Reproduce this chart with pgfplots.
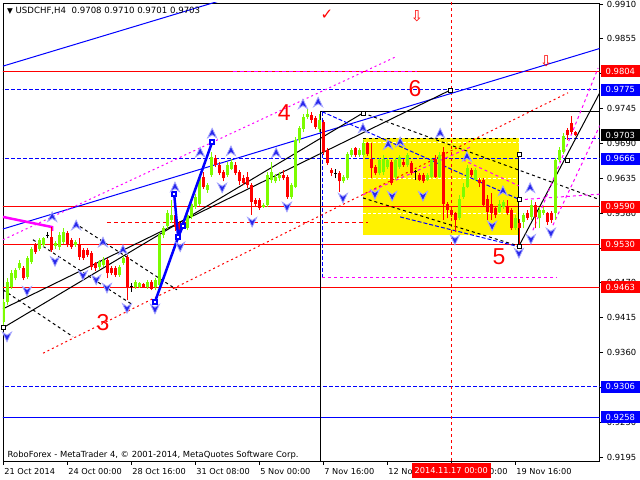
\documentclass[border=0pt]{standalone}
\usepackage{pgfplots}
\pgfplotsset{compat=1.18}
\usepackage{pgfplotstable}
\usepackage{fontspec}
\setmainfont{DejaVu Sans}
\newfontfamily\arialf{Liberation Sans}

\definecolor{bullc}{RGB}{124,252,0}
\definecolor{bearc}{RGB}{255,0,0}
\definecolor{mtblue}{RGB}{0,0,255}
\definecolor{mtmag}{RGB}{255,0,255}
\definecolor{frfill}{RGB}{40,40,235}
\definecolor{fredge}{RGB}{165,165,255}

\pgfdeclareplotmark{fup}{%
  \pgfpathmoveto{\pgfqpoint{0pt}{5pt}}%
  \pgfpathlineto{\pgfqpoint{4.5pt}{-4.5pt}}%
  \pgfpathlineto{\pgfqpoint{0pt}{-1.5pt}}%
  \pgfpathlineto{\pgfqpoint{-4.5pt}{-4.5pt}}%
  \pgfpathclose\pgfusepathqfillstroke}
\pgfdeclareplotmark{fdn}{%
  \pgfpathmoveto{\pgfqpoint{0pt}{-5pt}}%
  \pgfpathlineto{\pgfqpoint{4.5pt}{4.5pt}}%
  \pgfpathlineto{\pgfqpoint{0pt}{1.5pt}}%
  \pgfpathlineto{\pgfqpoint{-4.5pt}{4.5pt}}%
  \pgfpathclose\pgfusepathqfillstroke}

\pgfplotstableread{
i o h l c
0 0.9408 0.9445 0.9398 0.9440
1 0.9440 0.9478 0.9435 0.9472
2 0.9464 0.9490 0.9460 0.9485
3 0.9477 0.9493 0.9474 0.9490
4 0.9493 0.9506 0.9490 0.9502
6 0.9480 0.9512 0.9476 0.9509
7 0.9503 0.9527 0.9500 0.9524
9 0.9524 0.9541 0.9521 0.9538
10 0.9530 0.9543 0.9527 0.9540
13 0.9528 0.9536 0.9524 0.9533
14 0.9527 0.9550 0.9522 0.9545
15 0.9535 0.9556 0.9532 0.9551
18 0.9530 0.9538 0.9527 0.9535
24 0.9495 0.9506 0.9490 0.9503
25 0.9498 0.9510 0.9495 0.9506
29 0.9482 0.9498 0.9480 0.9495
30 0.9501 0.9512 0.9498 0.9509
33 0.9464 0.9474 0.9461 0.9472
34 0.9464 0.9472 0.9462 0.9469
36 0.9464 0.9474 0.9461 0.9471
38 0.9464 0.9477 0.9458 0.9474
39 0.9466 0.9548 0.9462 0.9545
40 0.9545 0.9560 0.9540 0.9556
41 0.9559 0.9585 0.9555 0.9580
42 0.9569 0.9600 0.9565 0.9577
46 0.9556 0.9580 0.9553 0.9577
47 0.9574 0.9598 0.9570 0.9595
48 0.9590 0.9610 0.9587 0.9606
49 0.9595 0.9642 0.9592 0.9637
51 0.9617 0.9628 0.9612 0.9625
52 0.9640 0.9677 0.9637 0.9669
56 0.9640 0.9660 0.9637 0.9656
57 0.9650 0.9666 0.9648 0.9661
65 0.9590 0.9596 0.9588 0.9593
66 0.9593 0.9645 0.9590 0.9640
67 0.9632 0.9660 0.9628 0.9645
68 0.9630 0.9642 0.9627 0.9637
69 0.9635 0.9645 0.9630 0.9640
72 0.9606 0.9627 0.9603 0.9624
73 0.9622 0.9700 0.9619 0.9695
74 0.9695 0.9718 0.9690 0.9714
75 0.9712 0.9737 0.9708 0.9732
76 0.9732 0.9745 0.9728 0.9737
79 0.9712 0.9737 0.9708 0.9727
85 0.9630 0.9640 0.9627 0.9637
86 0.9635 0.9677 0.9632 0.9674
87 0.9672 0.9683 0.9669 0.9680
89 0.9672 0.9683 0.9669 0.9680
90 0.9672 0.9695 0.9669 0.9690
94 0.9643 0.9667 0.9640 0.9664
95 0.9645 0.9672 0.9640 0.9666
96 0.9653 0.9667 0.9650 0.9664
98 0.9637 0.9667 0.9632 0.9664
99 0.9653 0.9672 0.9650 0.9669
101 0.9656 0.9675 0.9653 0.9672
106 0.9632 0.9643 0.9630 0.9640
107 0.9637 0.9667 0.9635 0.9664
109 0.9637 0.9677 0.9635 0.9672
114 0.9572 0.9608 0.9569 0.9603
115 0.9606 0.9627 0.9603 0.9622
116 0.9622 0.9656 0.9619 0.9651
118 0.9632 0.9651 0.9630 0.9648
124 0.9582 0.9600 0.9580 0.9595
125 0.9590 0.9601 0.9587 0.9598
128 0.9556 0.9577 0.9553 0.9572
130 0.9566 0.9580 0.9556 0.9577
132 0.9574 0.9601 0.9569 0.9593
134 0.9572 0.9590 0.9556 0.9585
135 0.9580 0.9590 0.9577 0.9585
138 0.9580 0.9667 0.9569 0.9664
139 0.9664 0.9685 0.9660 0.9680
140 0.9677 0.9706 0.9674 0.9701
}\bull

\pgfplotstableread{
i o h l c
5 0.9493 0.9496 0.9474 0.9477
8 0.9530 0.9533 0.9516 0.9519
12 0.9543 0.9558 0.9519 0.9522
16 0.9548 0.9552 0.9527 0.9530
17 0.9538 0.9541 0.9524 0.9527
19 0.9532 0.9540 0.9506 0.9511
20 0.9522 0.9525 0.9506 0.9509
21 0.9522 0.9525 0.9511 0.9514
22 0.9517 0.9520 0.9490 0.9495
23 0.9501 0.9503 0.9488 0.9493
26 0.9506 0.9509 0.9477 0.9485
27 0.9493 0.9496 0.9482 0.9485
28 0.9493 0.9496 0.9480 0.9482
31 0.9511 0.9514 0.9443 0.9464
35 0.9468 0.9470 0.9462 0.9464
37 0.9472 0.9475 0.9458 0.9461
43 0.9577 0.9583 0.9552 0.9558
44 0.9564 0.9567 0.9550 0.9553
45 0.9567 0.9570 0.9556 0.9559
50 0.9637 0.9645 0.9618 0.9622
53 0.9667 0.9672 0.9653 0.9656
54 0.9656 0.9660 0.9640 0.9643
55 0.9645 0.9648 0.9630 0.9635
58 0.9656 0.9660 0.9640 0.9643
59 0.9645 0.9648 0.9625 0.9630
60 0.9635 0.9640 0.9624 0.9627
61 0.9637 0.9645 0.9620 0.9624
62 0.9624 0.9627 0.9577 0.9598
63 0.9601 0.9604 0.9590 0.9595
64 0.9601 0.9604 0.9585 0.9588
70 0.9640 0.9648 0.9632 0.9635
71 0.9637 0.9640 0.9603 0.9606
77 0.9735 0.9740 0.9722 0.9727
78 0.9730 0.9733 0.9712 0.9716
80 0.9724 0.9727 0.9672 0.9677
81 0.9680 0.9683 0.9656 0.9659
82 0.9648 0.9651 0.9638 0.9643
84 0.9643 0.9646 0.9614 0.9630
88 0.9682 0.9685 0.9669 0.9672
91 0.9690 0.9693 0.9670 0.9674
92 0.9666 0.9690 0.9635 0.9651
93 0.9653 0.9656 0.9640 0.9643
97 0.9661 0.9664 0.9624 0.9627
100 0.9661 0.9666 0.9653 0.9656
102 0.9659 0.9662 0.9640 0.9643
104 0.9640 0.9643 0.9630 0.9632
105 0.9640 0.9643 0.9628 0.9630
108 0.9666 0.9672 0.9635 0.9637
110 0.9677 0.9685 0.9569 0.9595
111 0.9595 0.9598 0.9572 0.9585
112 0.9585 0.9590 0.9574 0.9577
113 0.9580 0.9582 0.9551 0.9569
117 0.9648 0.9651 0.9637 0.9640
119 0.9632 0.9635 0.9622 0.9627
120 0.9632 0.9635 0.9590 0.9593
121 0.9603 0.9608 0.9569 0.9582
122 0.9595 0.9611 0.9569 0.9580
123 0.9588 0.9590 0.9572 0.9577
126 0.9590 0.9601 0.9577 0.9580
127 0.9585 0.9588 0.9553 0.9556
129 0.9564 0.9570 0.9532 0.9556
131 0.9580 0.9585 0.9569 0.9572
133 0.9593 0.9598 0.9556 0.9574
136 0.9580 0.9582 0.9562 0.9566
137 0.9580 0.9583 0.9564 0.9569
141 0.9711 0.9714 0.9695 0.9703
142 0.9722 0.9733 0.9705 0.9708
143 0.9708 0.9710 0.9701 0.9703
}\bear

\pgfplotstableread{
i o h l c
11 0.9545 0.9550 0.9540 0.9545
32 0.9464 0.9469 0.9456 0.9464
83 0.9643 0.9650 0.9635 0.9643
103 0.9645 0.9648 0.9632 0.9645
}\doji

\begin{document}
\begin{tikzpicture}
\useasboundingbox (0,0) rectangle (640bp,480bp);
\fill[white] (0,0) rectangle (640bp,480bp);
\begin{axis}[
  at={(3bp,18.5bp)}, anchor=south west,
  scale only axis, width=596.5bp, height=458.5bp,
  xmin=-0.1, xmax=149.05, ymin=0.91881, ymax=0.99116,
  clip mode=individual,
  axis line style={line width=0.9bp},
  tick align=outside, major tick length=3.5bp,
  tick style={black, line width=0.8bp},
  xtick pos=lower, ytick pos=upper, yticklabel pos=upper,
  xtick={0,16,32,48,64,80,96,112,128},
  xticklabels={21 Oct 2014,24 Oct 00:00,28 Oct 16:00,31 Oct 08:00,5 Nov 00:00,7 Nov 16:00,12 Nov 08:00,17 Nov 00:00,19 Nov 16:00},
  xticklabel style={anchor=north west, xshift=-2.5bp, font=\fontsize{8.2bp}{9.6bp}\selectfont},
  ytick={0.9195,0.9250,0.9305,0.9360,0.9415,0.9470,0.9525,0.9580,0.9635,0.9690,0.9745,0.9800,0.9855,0.9910},
  yticklabels={0.9195,0.9250,{},0.9360,0.9415,0.9470,{},0.9580,0.9635,0.9690,0.9745,{},0.9855,0.9910},
  yticklabel style={font=\fontsize{8.4bp}{9.6bp}\selectfont, xshift=0.3bp},
  bdash/.style={dash pattern=on 4bp off 2bp},
  kdash/.style={dash pattern=on 3bp off 3bp},
  mdash/.style={dash pattern=on 3bp off 3bp},
  every axis plot/.append style={line width=1bp},
]
% yellow box
\addplot[fill=yellow, draw=none] coordinates {(89.9,0.96985) (128.9,0.96985) (128.9,0.95455) (89.9,0.95455)} -- cycle;
\addplot[white, dash pattern=on 3bp off 2bp] coordinates {(89.9,0.9691) (128.9,0.9691)};
\addplot[white, dash pattern=on 3bp off 2bp] coordinates {(89.9,0.9635) (128.9,0.9635)};
\addplot[white, dash pattern=on 3bp off 2bp] coordinates {(89.9,0.9580) (128.9,0.9580)};
\addplot[black, kdash] coordinates {(89.9,0.96985) (128.9,0.96985)};
% horizontal levels
\addplot[red] coordinates {(-1,0.9804) (150,0.9804)};
\addplot[red] coordinates {(-1,0.9590) (150,0.9590)};
\addplot[red] coordinates {(-1,0.9530) (150,0.9530)};
\addplot[red] coordinates {(-1,0.9463) (150,0.9463)};
\addplot[mtblue, bdash] coordinates {(-1,0.9775) (150,0.9775)};
\addplot[mtblue, bdash] coordinates {(-1,0.9666) (150,0.9666)};
\addplot[mtblue, bdash] coordinates {(-1,0.9306) (150,0.9306)};
\addplot[mtblue] coordinates {(-1,0.9258) (150,0.9258)};
\addplot[mtblue, bdash] coordinates {(129.2,0.9697) (150,0.9697)};
\addplot[red, dash pattern=on 4bp off 3bp] coordinates {(25.9,0.9566) (91.2,0.9566)};
\addplot[mtmag, dash pattern=on 4bp off 3bp] coordinates {(57.4,0.9804) (103.4,0.9804)};
\addplot[black] coordinates {(79.2,0.9740) (150,0.9740)};
% vertical lines
\addplot[red, dash pattern=on 3bp off 3bp] coordinates {(112,0.90) (112,1.0)};
\addplot[black] coordinates {(79.2,0.9740) (79.2,0.90)};
\addplot[mtblue, bdash] coordinates {(79.7,0.9740) (79.7,0.9479)};
\addplot[mtmag, mdash] coordinates {(79.7,0.9479) (138.4,0.9479)};
\addplot[black] coordinates {(128.9,0.9672) (128.9,0.9528)};
% sloped lines
\addplot[mtblue] coordinates {(-0.1,0.9812) (62,0.9930)};
\addplot[mtblue] coordinates {(-0.1,0.9555) (149.2,0.9840)};
\addplot[mtmag, dash pattern=on 2bp off 3bp] coordinates {(-0.1,0.9538) (97.9,0.9826)};
\addplot[mtmag, line width=2.5bp] coordinates {(-0.1,0.9574) (12.2,0.9558) (12.2,0.9552)};
\addplot[red, dash pattern=on 2bp off 3bp] coordinates {(9.9,0.9359) (141.2,0.9770)};
\addplot[black] coordinates {(-0.1,0.9429) (111.7,0.9774)};
\addplot[black] coordinates {(-0.1,0.9399) (89.9,0.9738)};
\addplot[black, kdash] coordinates {(89.9,0.9738) (149.2,0.9601)};
\addplot[black, kdash] coordinates {(89.9,0.9604) (128.9,0.9528)};
\addplot[black, kdash] coordinates {(17.9,0.9564) (43.4,0.9459)};
\addplot[black, kdash] coordinates {(7.4,0.9538) (32.4,0.9435)};
\addplot[black, kdash] coordinates {(-0.1,0.9459) (17.4,0.9385)};
\addplot[black] coordinates {(128.9,0.9528) (149.2,0.9771)};
\addplot[mtblue, bdash] coordinates {(79.7,0.9740) (129.2,0.9601)};
\addplot[mtblue, bdash] coordinates {(99.2,0.9574) (128.9,0.9527)};
\addplot[mtmag, mdash] coordinates {(132.4,0.9553) (148.7,0.9809)};
\addplot[mtmag, mdash] coordinates {(137.4,0.9561) (149.2,0.9719)};
\addplot[mtmag, mdash] coordinates {(128.9,0.9601) (149.2,0.9610)};
\addplot[mtmag, mdash] coordinates {(114.9,0.9664) (128.9,0.9623)};
\addplot[mtmag, mdash] coordinates {(89.9,0.9609) (116.7,0.9684)};
% candles: wicks
\addplot[draw=none, error bars/.cd, y dir=plus, y explicit, error mark=none, error bar style={draw=bullc, line width=1bp}]
  table[x=i, y=l, y error plus expr={\thisrow{h}-\thisrow{l}}] {\bull};
\addplot[draw=none, error bars/.cd, y dir=plus, y explicit, error mark=none, error bar style={draw=bearc, line width=1bp}]
  table[x=i, y=l, y error plus expr={\thisrow{h}-\thisrow{l}}] {\bear};
\addplot[draw=none, error bars/.cd, y dir=plus, y explicit, error mark=none, error bar style={draw=black, line width=1bp}]
  table[x=i, y=l, y error plus expr={\thisrow{h}-\thisrow{l}}] {\doji};
% candles: bodies
\addplot[draw=none, error bars/.cd, y dir=plus, y explicit, error mark=none, error bar style={draw=bullc, line width=3bp}]
  table[x=i, y=o, y error plus expr={\thisrow{c}-\thisrow{o}}] {\bull};
\addplot[draw=none, error bars/.cd, y dir=plus, y explicit, error mark=none, error bar style={draw=bearc, line width=3bp}]
  table[x=i, y=c, y error plus expr={\thisrow{o}-\thisrow{c}}] {\bear};
\addplot[draw=none, error bars/.cd, x dir=both, x fixed=0.45, error mark=none, error bar style={draw=black, line width=1bp}]
  table[x=i, y=o] {\doji};
% thick blue paths
\addplot[mtblue, line width=2.5bp] coordinates {(37.9,0.9440) (52.2,0.9692)};
\addplot[mtblue, line width=2.5bp] coordinates {(42.7,0.9610) (43.7,0.9542) (44.9,0.9560)};
\addplot[only marks, mark=square*, mark size=2bp, mark options={fill=white, draw=mtblue, line width=1.5bp}]
  coordinates {(37.9,0.9440) (52.2,0.9692) (42.7,0.9610) (43.7,0.9542) (44.9,0.9560)};
\addplot[only marks, mark=square*, mark size=2bp, mark options={fill=white, draw=black, line width=0.8bp}]
  coordinates {(111.7,0.9774) (89.9,0.9738) (0,0.9399) (128.9,0.9528) (128.9,0.9601) (128.9,0.9672) (140.9,0.9664)};
% fractals
\addplot[only marks, mark=fup, mark options={fill=frfill, draw=fredge, line width=0.8bp}] coordinates {
(12.2,0.9574) (18.2,0.9561) (24.9,0.9534) (29.9,0.9522) (42.9,0.9621) (49.2,0.9676) (52.2,0.9706)
(56.9,0.9678) (68.2,0.9675) (74.9,0.9752) (78.7,0.9755) (89.9,0.9714) (96.2,0.9688) (99.2,0.9692)
(109.2,0.9706) (115.9,0.9669) (124.9,0.9615) (131.7,0.9620)};
\addplot[only marks, mark=fdn, mark options={fill=frfill, draw=fredge, line width=0.8bp}] coordinates {
(0.9,0.9385) (5.9,0.9457) (12.9,0.9504) (19.9,0.9482) (23.2,0.9475) (25.9,0.9462) (30.9,0.9430)
(37.9,0.9429) (44.2,0.9527) (54.7,0.9620) (62.2,0.9566) (70.9,0.9590) (84.9,0.9604) (92.9,0.9610)
(97.2,0.9607) (104.9,0.9607) (112.9,0.9538) (122.2,0.9560) (128.9,0.9517) (131.9,0.9539) (136.9,0.9549)};
% wave labels and signs
\node[text=red, font=\arialf\fontsize{23bp}{23bp}\selectfont] at (axis cs:70.2,0.9738) {4};
\node[text=red, font=\arialf\fontsize{23bp}{23bp}\selectfont] at (axis cs:102.9,0.9776) {6};
\node[text=red, font=\arialf\fontsize{23bp}{23bp}\selectfont] at (axis cs:123.9,0.9512) {5};
\node[text=red, font=\arialf\fontsize{23bp}{23bp}\selectfont] at (axis cs:24.9,0.9408) {3};
\node[text=red, font=\fontsize{15bp}{15bp}\selectfont] at (axis cs:80.9,0.98926) {✓};
\node[text=red, font=\fontsize{15bp}{15bp}\selectfont] at (axis cs:103.4,0.98911) {⇩};
\node[text=red, font=\fontsize{15bp}{15bp}\selectfont] at (axis cs:135.7,0.9820) {⇩};
\node[anchor=north west, inner sep=0pt, xshift=4bp, yshift=-4bp, font=\fontsize{8.6bp}{9.6bp}\selectfont] at (rel axis cs:0,1)
  {{\fontsize{7.5bp}{7.5bp}\selectfont ▼}\ USDCHF,H4\ \ 0.9708 0.9710 0.9701 0.9703};
\node[anchor=south west, inner sep=0pt, xshift=4.5bp, yshift=2bp, font=\fontsize{8.4bp}{9.6bp}\selectfont] at (rel axis cs:0,0)
  {RoboForex - MetaTrader 4, © 2001-2014, MetaQuotes Software Corp.};
% coordinates for price boxes
\coordinate (r9804) at (axis cs:149.05,0.9804);
\coordinate (r9775) at (axis cs:149.05,0.9775);
\coordinate (r9703) at (axis cs:149.05,0.9703);
\coordinate (r9666) at (axis cs:149.05,0.9666);
\coordinate (r9590) at (axis cs:149.05,0.9590);
\coordinate (r9530) at (axis cs:149.05,0.9530);
\coordinate (r9463) at (axis cs:149.05,0.9463);
\coordinate (r9306) at (axis cs:149.05,0.9306);
\coordinate (r9258) at (axis cs:149.05,0.9258);
\coordinate (d17) at (axis cs:112,0.91881);
\end{axis}
\tikzset{pbox/.style={anchor=west, xshift=1.2bp, inner sep=0pt, minimum width=39bp, minimum height=12bp, text=white, font=\fontsize{8.4bp}{9.6bp}\selectfont}}
\node[pbox, fill=red] at (r9804) {0.9804};
\node[pbox, fill=mtblue] at (r9775) {0.9775};
\node[pbox, fill=black] at (r9703) {0.9703};
\node[pbox, fill=mtblue] at (r9666) {0.9666};
\node[pbox, fill=red] at (r9590) {0.9590};
\node[pbox, fill=red] at (r9530) {0.9530};
\node[pbox, fill=red] at (r9463) {0.9463};
\node[pbox, fill=mtblue] at (r9306) {0.9306};
\node[pbox, fill=mtblue] at (r9258) {0.9258};
\node[anchor=north, yshift=-1.5bp, inner sep=0pt, minimum width=79bp, minimum height=15bp, fill=red, text=white, font=\fontsize{8.2bp}{9.6bp}\selectfont] at (d17) {2014.11.17 00:00};
\end{tikzpicture}
\end{document}
